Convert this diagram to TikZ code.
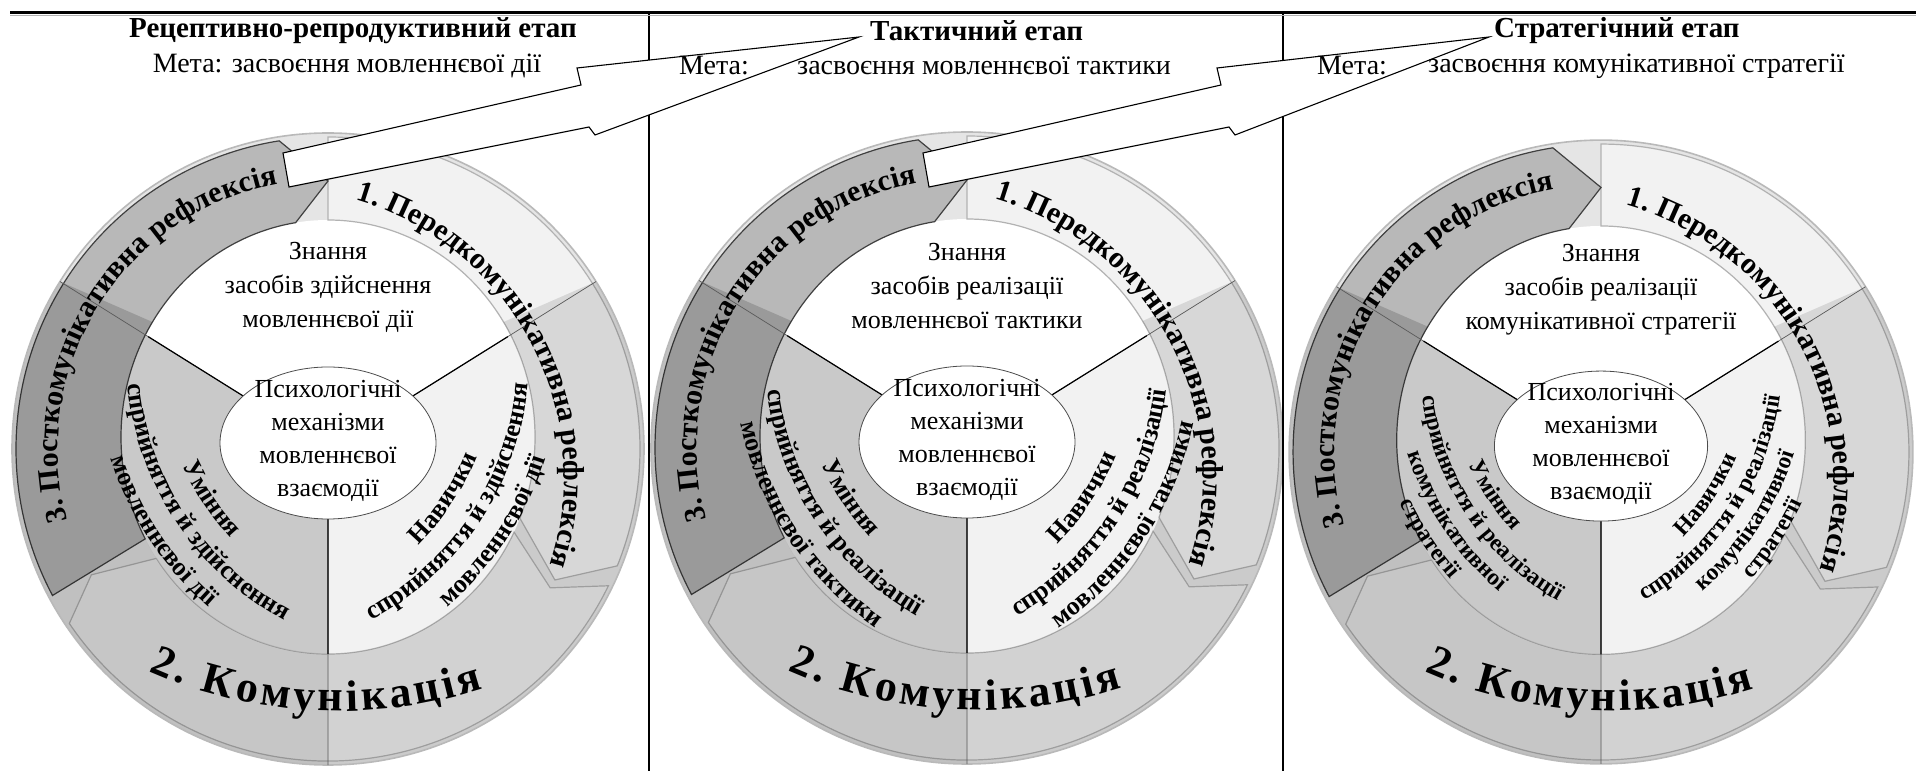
\documentclass[tikz,border=0pt]{standalone}
\usepackage{fontspec}
\setmainfont{Liberation Serif}
\usetikzlibrary{decorations.text}
\definecolor{ringbg}{gray}{0.90}
\definecolor{secleft}{gray}{0.79}
\definecolor{secright}{gray}{0.95}
\definecolor{arrlight}{gray}{0.95}
\definecolor{arrmid}{gray}{0.93}
\definecolor{arrdark}{gray}{0.72}
\newcommand\hfont{\fontsize{28}{34}\selectfont}
\newcommand\hbfont{\fontsize{29}{34}\selectfont\bfseries}
\newcommand\tfont{\fontsize{26}{34}\selectfont}
\newcommand\efont{\fontsize{26}{33}\selectfont}
\newcommand\ringfont{\fontsize{30}{30}\selectfont\bfseries}
\newcommand\bigfont{\fontsize{44}{44}\selectfont\bfseries}
\newcommand\secfont{\fontsize{26}{26}\selectfont\bfseries}
\newcommand\secsfont{\fontsize{23.5}{23.5}\selectfont\bfseries}
% text on an arc around (#3,#4): #1 font, #2 text, #5 radius, #6 start, #7 end, #8 alignment
\newcommand\arcfit[8]{\path[decorate,decoration={text along path,text={|#1|#2},text align={#8}}] ([shift={(#3,#4)}]#6:#5) arc[start angle=#6,end angle=#7,radius=#5];}
% mirrored pair of sector lines: #1 font, #2 left text, #3 right text, #4 radius, #5 start, #6 end, #7 alignment
\newcommand\secpair[7]{\arcfit{#1}{#2}{97.5}{92}{#4}{#5}{#6}{#7}\arcfit{#1}{#3}{-97.5}{92}{#4}{180-#6}{180-#5}{#7}}
\tikzset{
 arrA/.style={fill=arrlight, draw=gray!60, line width=1.2pt},
 arrB/.style={fill=arrmid, draw=gray!60, line width=1.2pt},
 arrC/.style={fill=arrdark, draw=gray!50!black, line width=1.2pt},
 divthin/.style={draw=black!65, line width=0.7pt},
 divthick/.style={draw=black, line width=1.2pt},
 bigarrow/.style={fill=white, draw=black, line width=1.1pt, line join=miter},
 hdr/.style={font=\hfont, inner sep=0pt},
 hdrb/.style={font=\hbfont, inner sep=0pt},
 intext/.style={font=\tfont, inner sep=0pt, align=center},
}
\newcommand\wheelbase[1]{%
 \fill[ringbg] (0,0) circle (316);
 \begin{scope}
  \clip (0,12) ellipse (207 and 217);
  \fill[white] (0,0) -- (32:400) arc[start angle=32,end angle=148,radius=400] -- cycle;
  \fill[secleft] (0,0) -- (148:400) arc[start angle=148,end angle=270,radius=400] -- cycle;
  \fill[secright] (0,0) -- (270:400) arc[start angle=270,end angle=392,radius=400] -- cycle;
 \end{scope}
 \filldraw[arrA] (90:312) arc[start angle=90,end angle=-22,radius=312] -- (-30:262) -- ([shift={(0,12)}]-22:207 and 217) arc[start angle=-22,end angle=90,x radius=207,y radius=217] -- cycle;
 \filldraw[arrB] (-26:312) arc[start angle=-26,end angle=-146,radius=312] -- (-152:268) -- ([shift={(0,12)}]-146:207 and 217) arc[start angle=-146,end angle=-26,x radius=207,y radius=217] -- (-32:262) -- cycle;
 \filldraw[arrC] ([shift={(0,12)}]208:207 and 217) -- (208:312) arc[start angle=208,end angle=99,radius=312] -- (90:268) -- ([shift={(0,12)}]99:207 and 217) arc[start angle=99,end angle=208,x radius=207,y radius=217] -- cycle;
 \fill[black, opacity=0.16] (148:316) arc[start angle=148,end angle=270,radius=316] -- ([shift={(0,12)}]270:207 and 217) arc[start angle=270,end angle=148,x radius=207,y radius=217] -- cycle;
 \fill[black, opacity=0.11] (270:316) arc[start angle=270,end angle=392,radius=316] -- ([shift={(0,12)}]392:207 and 217) arc[start angle=392,end angle=270,x radius=207,y radius=217] -- cycle;
 \draw[gray!55, line width=1.6pt] (0,0) circle (316);
 \draw[divthin] (0,0) -- (32:316) (0,0) -- (148:316) (0,0) -- (270:316);
 \draw[divthick] (0,0) -- (32:212) (0,0) -- (148:212) (0,0) -- (270:205);
 \draw[fill=white, draw=black!70, line width=0.8pt] (0,6) ellipse (108 and 76);
 \node[inner sep=0pt, align=center, font=\efont] (#1psy) at (0,8) {Психологічні\\механізми\\мовленнєвої\\взаємодії};
 \path[decorate,decoration={text along path,text={|\ringfont|1. Передкомунікативна рефлексія},text align=center}] ([shift={(208:60)}]88:289) arc[start angle=88,end angle=-32,radius=289];
 \path[decorate,decoration={text along path,text={|\ringfont|3. Посткомунікативна рефлексія},text align=center}] (213:270) arc[start angle=213,end angle=83,radius=270];
 \path[decorate,decoration={text along path,text={|\bigfont|2. Комунікація},text align={fit to path}}] ([shift={(87:205)}]246:467) arc[start angle=246,end angle=288,radius=467];
}
\begin{document}
\begin{tikzpicture}[x=1pt,y=1pt]
\useasboundingbox (0,0) rectangle (1916,771);
\fill[white] (0,0) rectangle (1916,771);
% wheel 1
\begin{scope}[shift={(328,322)}]
 \wheelbase{w1}
 \node[intext] (w1top) at (0,162) {Знання\\засобів здійснення\\мовленнєвої дії};
 \secpair{\secfont}{Уміння}{Навички}{266}{153.5}{273.5}{center}
 \secpair{\secfont}{сприйняття й здійснення}{сприйняття й здійснення}{299}{153.5}{273.5}{center}
 \secpair{\secfont}{мовленнєвої дії}{мовленнєвої дії}{331}{153.5}{273.5}{center}
\end{scope}
% wheel 2
\begin{scope}[shift={(967,323)}]
 \wheelbase{w2}
 \node[intext] (w2top) at (0,162) {Знання\\засобів реалізації\\мовленнєвої тактики};
 \secpair{\secfont}{Уміння}{Навички}{266}{153.5}{273.5}{center}
 \secpair{\secfont}{сприйняття й реалізації}{сприйняття й реалізації}{299}{153.5}{273.5}{center}
 \secpair{\secfont}{мовленнєвої тактики}{мовленнєвої тактики}{331}{153.5}{273.5}{center}
\end{scope}
% wheel 3
\begin{scope}[shift={(1601,319)}, scale=0.987]
 \wheelbase{w3}
 \node[intext] (w3top) at (0,164) {Знання\\засобів реалізації\\комунікативної стратегії};
 \secpair{\secsfont}{Уміння}{Навички}{254}{153.5}{273.5}{center}
 \secpair{\secsfont}{сприйняття й реалізації}{сприйняття й реалізації}{281}{153.5}{273.5}{center}
 \secpair{\secsfont}{комунікативної}{комунікативної}{308}{153.5}{273.5}{center}
 \secpair{\secsfont}{стратегії}{стратегії}{334}{153.5}{273.5}{center}
\end{scope}
% dividers and top rule
\draw[line width=1.2pt] (649,758) -- (649,0);
\draw[line width=1.2pt] (1283,758) -- (1283,0);
\draw[gray!60, line width=1.5pt] (10,755.5) -- (1916,755.5);
\draw[line width=2.6pt] (10,758.5) -- (1916,758.5);
% big arrows between stages
\draw[bigarrow] (283,618) -- (581,686) -- (577,703) -- (859,734) -- (595,636) -- (589,644) -- (289,584) -- cycle;
\draw[bigarrow] (923,618) -- (1221,686) -- (1217,703) -- (1489,734) -- (1235,636) -- (1229,644) -- (929,584) -- cycle;
% headers
\node[hdrb] (t1) at (353,740) {Рецептивно-репродуктивний етап};
\node[hdr] (m1) at (347,705) {Мета: засвоєння мовленнєвої дії};
\node[hdrb, anchor=west] (t2) at (870,740) {Тактичний етап};
\node[hdr, anchor=west] (m2a) at (679,705) {Мета:};
\node[hdr, anchor=west] (m2b) at (797,705) {засвоєння мовленнєвої тактики};
\node[hdrb, anchor=west] (t3) at (1494,740) {Стратегічний етап};
\node[hdr, anchor=west] (m3a) at (1317,705) {Мета:};
\node[hdr, anchor=west] (m3b) at (1428,705) {засвоєння комунікативної стратегії};
\end{tikzpicture}
\end{document}
